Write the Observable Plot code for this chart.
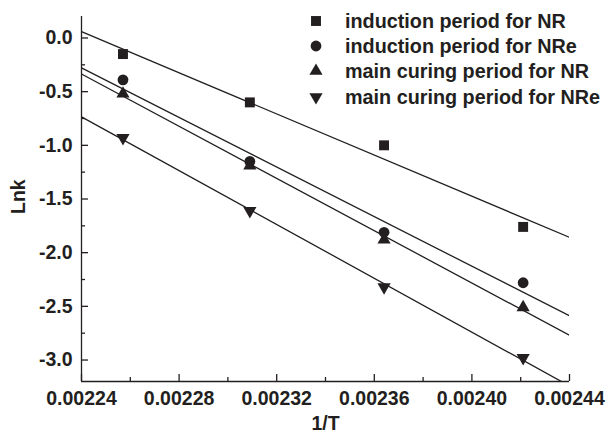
<!DOCTYPE html>
<html>
<head>
<meta charset="utf-8">
<script src="https://cdn.jsdelivr.net/npm/d3@7"></script>
<script src="https://cdn.jsdelivr.net/npm/@observablehq/plot@0.6"></script>
<style>
  html, body { margin: 0; padding: 0; background: #fff; }
  #wrap { position: relative; width: 608px; height: 439px; font-family: "Liberation Sans", Arial, sans-serif; font-weight: bold; color: #231f20; }
  #legend { position: absolute; left: 0; top: 0; }
</style>
</head>
<body>
<div id="wrap"></div>
<script>
// ---- data ----
const invT = [0.002257, 0.002309, 0.002364, 0.002421];
const seriesNames = [
  "induction period for NR",
  "induction period for NRe",
  "main curing period for NR",
  "main curing period for NRe"
];
const inductionNR  = [-0.15, -0.60, -1.00, -1.76];
const inductionNRe = [-0.39, -1.15, -1.81, -2.28];
const mainNR       = [-0.52, -1.19, -1.88, -2.51];
const mainNRe      = [-0.93, -1.61, -2.32, -2.98];
const xTicks = [0.00224, 0.00228, 0.00232, 0.00236, 0.00240, 0.00244];
const xMinorTicks = [0.00226, 0.00230, 0.00234, 0.00238, 0.00242];
const yTicks = [-3.0, -2.5, -2.0, -1.5, -1.0, -0.5, 0.0];
const yMinorTicks = [-3.25, -2.75, -2.25, -1.75, -1.25, -0.75, -0.25];
const xDomain = [0.00224, 0.00244];
const yDomain = [-3.2, 0.2];

const ink = "#231f20";
const fontSize = "19.5px";
const s3 = Math.sqrt(3);
const triangleDown = {
  draw(context, size) {
    const y = -Math.sqrt(size / (s3 * 3));
    context.moveTo(0, -y * 2);
    context.lineTo(-s3 * y, y);
    context.lineTo(s3 * y, y);
    context.closePath();
  }
};
const symbols = ["square", "circle", "triangle", triangleDown];
const radii = [5.6, 5.4, 4.9, 4.9];
const allY = [inductionNR, inductionNRe, mainNR, mainNRe];

const points = [];
const fitLines = [];
allY.forEach((ys, i) => {
  ys.forEach((v, j) => points.push({s: i, x: invT[j], y: v}));
  const mx = d3.mean(invT), my = d3.mean(ys);
  const sxy = d3.sum(invT, (x, j) => (x - mx) * (ys[j] - my));
  const sxx = d3.sum(invT, x => (x - mx) ** 2);
  const b = sxy / sxx, a = my - b * mx;
  xDomain.forEach(x => fitLines.push({s: i, x, y: a + b * x}));
});

const chart = Plot.plot({
  width: 608,
  height: 439,
  marginLeft: 81,
  marginRight: 39,
  marginTop: 16,
  marginBottom: 58,
  style: {fontFamily: '"Liberation Sans", Arial, sans-serif', fontSize, fontWeight: "bold", color: ink, background: "#fff", overflow: "visible"},
  x: {domain: xDomain},
  y: {domain: yDomain},
  marks: [
    Plot.line(fitLines, {x: "x", y: "y", z: "s", stroke: ink, strokeWidth: 1.3, clip: true}),
    ...symbols.map((sym, i) =>
      Plot.dot(points.filter(d => d.s === i), {x: "x", y: "y", symbol: () => sym, r: radii[i], fill: ink, stroke: "none"})
    ),
    Plot.ruleX([xDomain[0]], {stroke: ink, strokeWidth: 1.3}),
    Plot.ruleY([yDomain[0]], {stroke: ink, strokeWidth: 1.3}),
    Plot.tickY(yTicks, {y: d => d, stroke: ink, strokeWidth: 1.3, insetRight: 488 - 7}),
    Plot.tickY(yMinorTicks.filter(v => v >= yDomain[0]), {y: d => d, stroke: ink, strokeWidth: 1.3, insetRight: 488 - 4}),
    Plot.tickX(xTicks, {x: d => d, stroke: ink, strokeWidth: 1.3, insetTop: 365 - 7}),
    Plot.tickX(xMinorTicks, {x: d => d, stroke: ink, strokeWidth: 1.3, insetTop: 365 - 4}),
    Plot.axisY(yTicks, {tickSize: 0, tickPadding: 9, tickFormat: d => d.toFixed(1), label: null, fill: ink}),
    Plot.axisX(xTicks, {tickSize: 0, tickPadding: 10, tickFormat: d => d.toFixed(5), label: null, fill: ink}),
    Plot.text(["Lnk"], {frameAnchor: "left", dx: -63, dy: 15, rotate: -90, fill: ink}),
    Plot.text(["1/T"], {frameAnchor: "bottom", dy: 48, fill: ink})
  ]
});
const wrap = document.getElementById("wrap");
wrap.appendChild(chart);

// legend overlay
const legend = d3.select(wrap).append("svg")
  .attr("id", "legend").attr("width", 608).attr("height", 120);
const rowY = [21, 46, 71, 97];
seriesNames.forEach((name, i) => {
  const g = legend.append("g").attr("transform", `translate(316,${rowY[i]})`);
  const sym = typeof symbols[i] === "string"
    ? {square: d3.symbolSquare, circle: d3.symbolCircle, triangle: d3.symbolTriangle}[symbols[i]]
    : symbols[i];
  g.append("path").attr("d", d3.symbol(sym, Math.PI * radii[i] ** 2)()).attr("fill", ink);
  g.append("text").attr("x", 29).attr("y", 7)
    .attr("font-family", '"Liberation Sans", Arial, sans-serif')
    .attr("font-size", "19.8px").attr("font-weight", "bold").attr("fill", ink)
    .text(name);
});
</script>
</body>
</html>
